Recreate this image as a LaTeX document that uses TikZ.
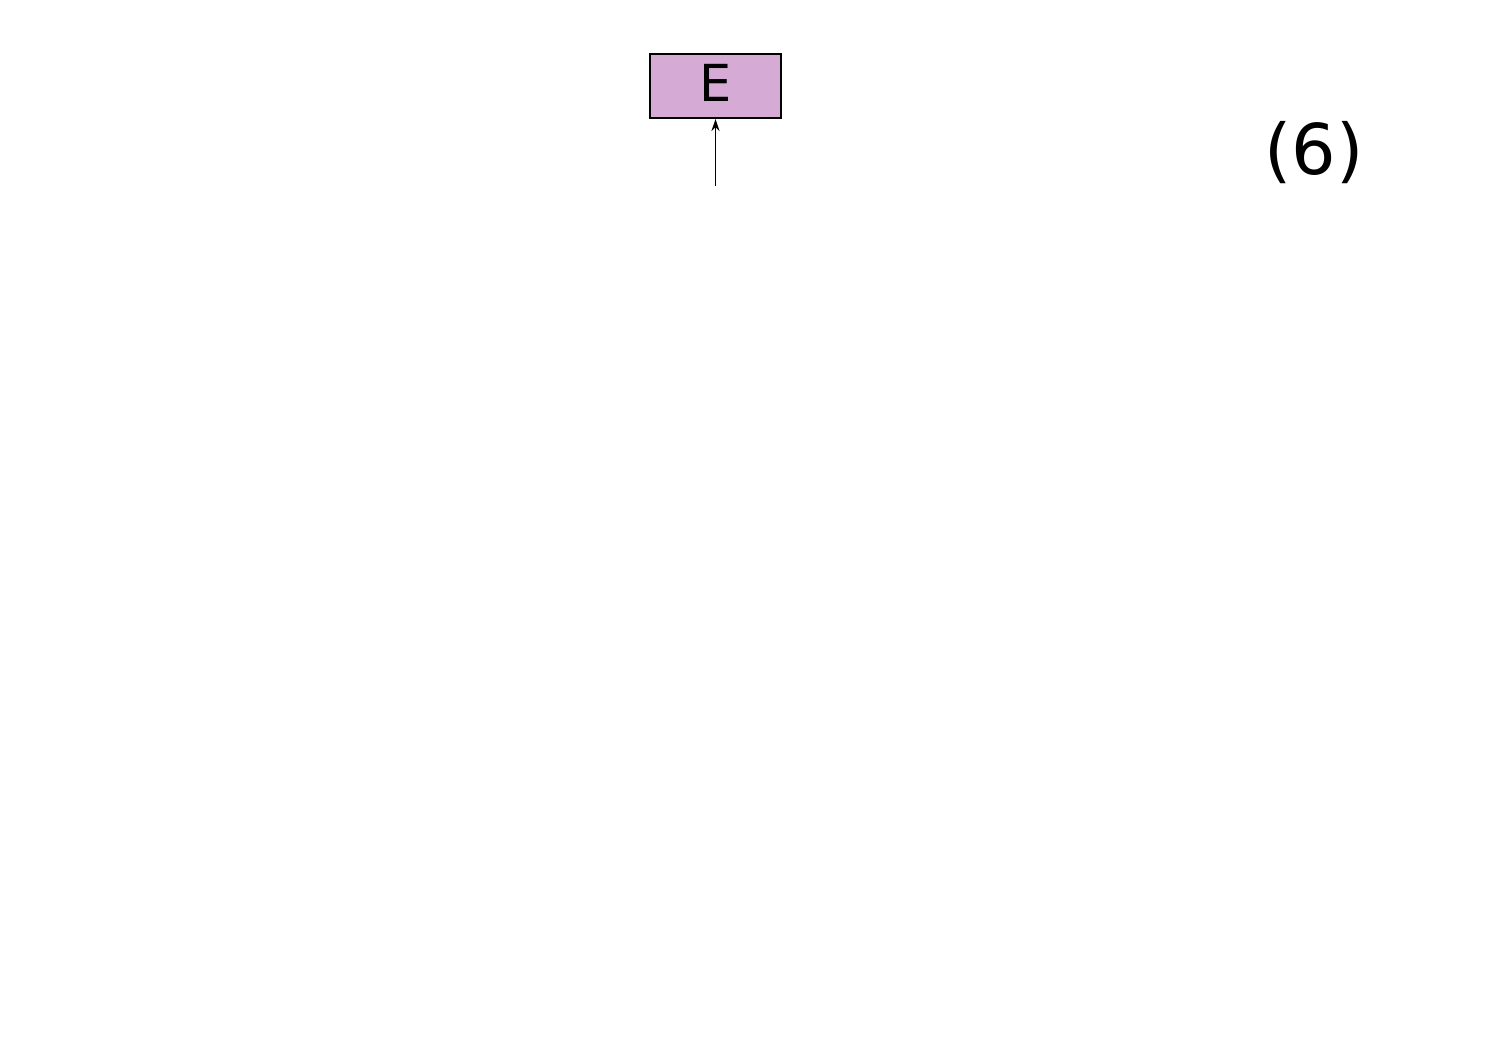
\documentclass[tikz,border=0pt]{standalone}
\usepackage{fontspec}
\setmainfont{DejaVu Sans}
\usetikzlibrary{arrows.meta}
\definecolor{boxfill}{RGB}{213,171,213}
\tikzset{
  ebox/.style={draw=black, fill=boxfill, line width=2pt, minimum width=131pt, minimum height=64pt, inner sep=0pt, text depth=7pt, font=\fontsize{51}{51}\selectfont},
  conn/.style={line width=1.5pt, -{Stealth[length=12pt,width=8pt]}},
  lbl/.style={inner sep=0pt, font=\fontsize{70}{70}\selectfont}
}
\begin{document}
\begin{tikzpicture}[x=1pt,y=-1pt]
\useasboundingbox (0,0) rectangle (1501,1061);
\node[ebox] (E) at (715.5,86) {E};
\coordinate (src) at (715.5,186);
\draw[conn] (src) -- (E.south);
\node[lbl, anchor=base] (num) at (1314,174) {(6)};
\end{tikzpicture}
\end{document}
